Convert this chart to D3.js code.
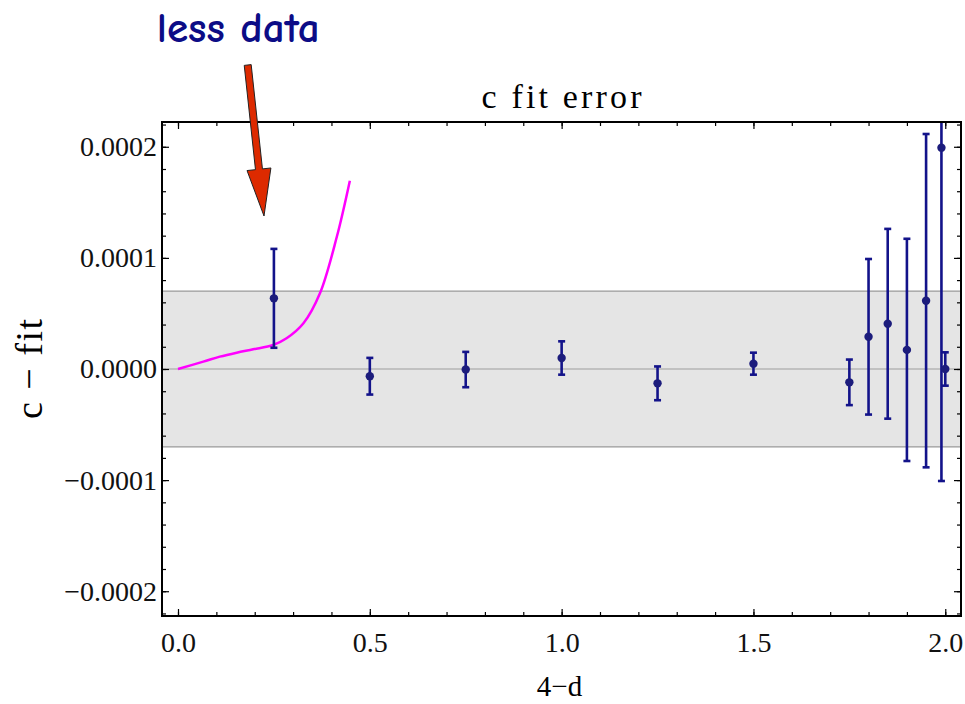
<!DOCTYPE html>
<html>
<head>
<meta charset="utf-8">
<script src="https://cdn.jsdelivr.net/npm/d3@7"></script>
<style>
  body { margin: 0; background: #fff; }
  text { font-family: "Liberation Serif", "Times New Roman", serif; }
</style>
</head>
<body>
<script>
// measured points (4-d, c - fit, error)
const xs   = [0.25, 0.5, 0.75, 1.0, 1.25, 1.5, 1.75, 1.8, 1.85, 1.9, 1.95, 1.99, 2.0];
const vals = [0.0000636, -0.0000065, -0.0000005, 0.0000099, -0.0000129, 0.0000048,
              -0.000012, 0.000029, 0.0000407, 0.0000172, 0.0000615, 0.0001992, 0.0];
const errs = [0.0000445, 0.0000165, 0.0000159, 0.000015, 0.0000152, 0.0000099,
              0.0000205, 0.00007, 0.0000854, 0.0001, 0.00015, 0.0003, 0.000015];

// magenta curve
const curveX = [0, 0.066, 0.109, 0.153, 0.196, 0.248, 0.283, 0.327, 0.370, 0.414, 0.448];
const curveY = [0, 0.0000066, 0.0000111, 0.0000147, 0.0000177, 0.0000216, 0.0000276,
                0.0000411, 0.0000681, 0.000119, 0.0001695];

const bandHalf = 0.00007;
const xMajor = [0, 0.5, 1.0, 1.5, 2.0];
const yMajor = [-0.0002, -0.0001, 0, 0.0001, 0.0002];

const W = 965, H = 704;
const m = {left: 162, top: 122, right: 4, bottom: 88};
const pw = W - m.left - m.right, ph = H - m.top - m.bottom;

const svg = d3.select("body").append("svg").attr("width", W).attr("height", H);

const x = d3.scaleLinear().domain([-0.0417, 2.041]).range([0, pw]);
const y = d3.scaleLinear().domain([-0.0002223, 0.0002223]).range([ph, 0]);

const g = svg.append("g").attr("transform", `translate(${m.left},${m.top})`);

g.append("clipPath").attr("id", "clip")
  .append("rect").attr("width", pw).attr("height", ph);

// grey band
g.append("rect")
  .attr("x", 0).attr("width", pw)
  .attr("y", y(bandHalf)).attr("height", y(-bandHalf) - y(bandHalf))
  .attr("fill", "#e5e5e5");
[bandHalf, -bandHalf].forEach(v => {
  g.append("line").attr("x1", 0).attr("x2", pw).attr("y1", y(v)).attr("y2", y(v))
    .attr("stroke", "#999").attr("stroke-width", 1.3);
});
g.append("line").attr("x1", 0).attr("x2", pw).attr("y1", y(0)).attr("y2", y(0))
  .attr("stroke", "#b4b4b4").attr("stroke-width", 1.3);

const plot = g.append("g").attr("clip-path", "url(#clip)");

// magenta curve
plot.append("path")
  .datum(curveX.map((d, i) => [d, curveY[i]]))
  .attr("fill", "none").attr("stroke", "#ff00ff").attr("stroke-width", 2.5)
  .attr("d", d3.line().x(d => x(d[0])).y(d => y(d[1])).curve(d3.curveCatmullRom));

// error bars
const pts = xs.map((d, i) => ({x: d, v: vals[i], e: errs[i]}));
const eb = plot.selectAll(".eb").data(pts).enter().append("g")
  .attr("stroke", "#13138a").attr("stroke-width", 2.6);
eb.append("line")
  .attr("x1", d => x(d.x)).attr("x2", d => x(d.x))
  .attr("y1", d => y(d.v + d.e)).attr("y2", d => y(d.v - d.e));
eb.append("line")
  .attr("x1", d => x(d.x) - 3.5).attr("x2", d => x(d.x) + 3.5)
  .attr("y1", d => y(d.v + d.e)).attr("y2", d => y(d.v + d.e));
eb.append("line")
  .attr("x1", d => x(d.x) - 3.5).attr("x2", d => x(d.x) + 3.5)
  .attr("y1", d => y(d.v - d.e)).attr("y2", d => y(d.v - d.e));
plot.selectAll(".pt").data(pts).enter().append("circle")
  .attr("cx", d => x(d.x)).attr("cy", d => y(d.v)).attr("r", 4.2)
  .attr("fill", "#1c1c7c");

// axes: ticks inward on all four sides
const xMinor = d3.range(0, 2.05, 0.1);
const yMinor = d3.range(-0.00022, 0.000221, 0.00002);
function style(sel) {
  sel.select(".domain").remove();
  sel.selectAll("line").attr("stroke", "#000").attr("stroke-width", 1.2);
  sel.selectAll("text").attr("font-size", 28).attr("fill", "#111")
    .style("font-family", '"Liberation Serif", serif');
}
g.append("g").attr("transform", `translate(0,${ph})`)
  .call(d3.axisBottom(x).tickValues(xMajor).tickFormat(d3.format(".1f")).tickSizeInner(-7).tickSizeOuter(0).tickPadding(16))
  .call(style);
g.append("g").attr("transform", `translate(0,${ph})`)
  .call(d3.axisBottom(x).tickValues(xMinor).tickFormat("").tickSizeInner(-4).tickSizeOuter(0))
  .call(style);
g.append("g")
  .call(d3.axisTop(x).tickValues(xMajor).tickFormat("").tickSizeInner(-7).tickSizeOuter(0)).call(style);
g.append("g")
  .call(d3.axisTop(x).tickValues(xMinor).tickFormat("").tickSizeInner(-4).tickSizeOuter(0)).call(style);
g.append("g")
  .call(d3.axisLeft(y).tickValues(yMajor).tickFormat(d3.format(".4f")).tickSizeInner(-7).tickSizeOuter(0).tickPadding(5))
  .call(style);
g.append("g")
  .call(d3.axisLeft(y).tickValues(yMinor).tickFormat("").tickSizeInner(-4).tickSizeOuter(0)).call(style);
g.append("g").attr("transform", `translate(${pw},0)`)
  .call(d3.axisRight(y).tickValues(yMajor).tickFormat("").tickSizeInner(-7).tickSizeOuter(0)).call(style);
g.append("g").attr("transform", `translate(${pw},0)`)
  .call(d3.axisRight(y).tickValues(yMinor).tickFormat("").tickSizeInner(-4).tickSizeOuter(0)).call(style);

// frame
g.append("rect").attr("width", pw).attr("height", ph)
  .attr("fill", "none").attr("stroke", "#000").attr("stroke-width", 2);

// titles
svg.append("text").attr("x", m.left + pw / 2).attr("y", 108)
  .attr("text-anchor", "middle").attr("font-size", 34)
  .attr("textLength", 160).attr("lengthAdjust", "spacing")
  .text("c fit error");
svg.append("text").attr("x", m.left + pw / 2 - 2).attr("y", 696)
  .attr("text-anchor", "middle").attr("font-size", 29)
  .text("4−d");
svg.append("text")
  .attr("transform", `translate(42,${m.top + y(0)}) rotate(-90)`)
  .attr("text-anchor", "middle").attr("font-size", 38)
  .attr("textLength", 100).attr("lengthAdjust", "spacing")
  .text("c − fit");

// annotation: arrow + label
const aStart = [m.left + x(0.1817), m.top + y(0.0002736)];
const aTip = [m.left + x(0.2242), m.top + y(0.0001377)];
const dx = aTip[0] - aStart[0], dy = aTip[1] - aStart[1];
const len = Math.hypot(dx, dy), ux = dx / len, uy = dy / len, nx = -uy, ny = ux;
const headL = 47, headW = 12, shaftW = 3.5;
const hb = [aTip[0] - ux * headL, aTip[1] - uy * headL];
const arrow = [
  [aStart[0] + nx * shaftW, aStart[1] + ny * shaftW],
  [hb[0] + nx * shaftW, hb[1] + ny * shaftW],
  [hb[0] + nx * headW, hb[1] + ny * headW],
  aTip,
  [hb[0] - nx * headW, hb[1] - ny * headW],
  [hb[0] - nx * shaftW, hb[1] - ny * shaftW],
  [aStart[0] - nx * shaftW, aStart[1] - ny * shaftW]
];
svg.append("path").attr("d", d3.line()(arrow) + "Z")
  .attr("fill", "#dd2a00").attr("stroke", "#222").attr("stroke-width", 1);

svg.append("text")
  .attr("x", m.left + x(0.157)).attr("y", 42)
  .attr("text-anchor", "middle").attr("font-size", 42).attr("font-weight", 600)
  .attr("fill", "#0c0c86")
  .attr("textLength", 163).attr("lengthAdjust", "spacingAndGlyphs")
  .style("font-family", '"Comic Sans MS", "Comic Neue", "Open Sans", sans-serif')
  .text("less data");
</script>
</body>
</html>
